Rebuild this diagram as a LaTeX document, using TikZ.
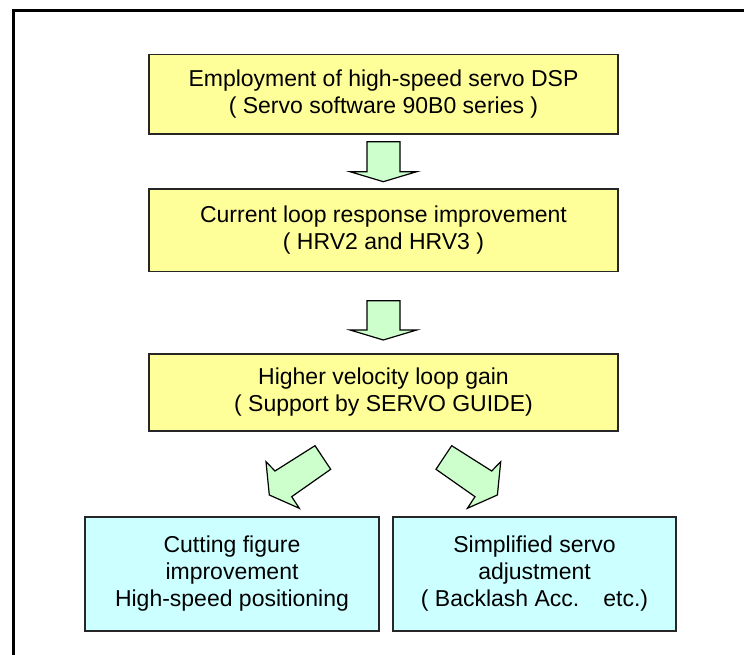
\documentclass[tikz,border=0pt]{standalone}
\usepackage{fontspec}
\setmainfont{Liberation Sans}
\definecolor{stepyellow}{HTML}{FFFF99}
\definecolor{resultcyan}{HTML}{CCFFFF}
\definecolor{arrowgreen}{HTML}{CCFFCC}
\begin{document}
\begin{tikzpicture}[x=1pt,y=1pt,
  boxtext/.style={align=center, inner sep=0pt, font=\fontsize{23}{27}\selectfont},
  stagebox/.style={boxtext, draw=black!85, line width=1.3pt, fill=stepyellow,
    minimum width=469pt},
  resultbox/.style={boxtext, draw=black!85, line width=1.3pt, fill=resultcyan,
    minimum width=#1, minimum height=114pt},
  blockarrow/.style={draw=black, line width=1.2pt, fill=arrowgreen, line join=miter}]
\useasboundingbox (0,0) rectangle (744,655);
\clip (0,0) rectangle (744,655);

% outer frame, running off the right and bottom edges
\draw[line width=3pt] (13,-20) -- (13,644.5) -- (780,644.5);

% chain of stages
\node[stagebox, minimum height=79.5pt] (dsp) at (383.5,560.75)
  {Employment of high-speed servo DSP\\( Servo software 90B0 series )};
\node[stagebox, minimum height=82.5pt] (current) at (383.5,424.75)
  {Current loop response improvement\\( HRV2 and HRV3 )};
\node[stagebox, minimum height=77pt] (velocity) at (383.5,262.5)
  {Higher velocity loop gain\\( Support by SERVO GUIDE)};

% results
\node[resultbox=294pt] (cutting) at (232,81)
  {Cutting figure\\improvement\\High-speed positioning};
\node[resultbox=283pt] (servoadj) at (534.5,81)
  {Simplified servo\\adjustment\\( Backlash Acc.\hspace{24pt}etc.)};

% block arrows between the stages
\draw[blockarrow] (367,513.3) -- (400,513.3) -- (400,483.3) -- (416.7,483.3)
  -- (383.3,473.3) -- (350,483.3) -- (367,483.3) -- cycle;
\draw[blockarrow] (367,354.3) -- (400,354.3) -- (400,325) -- (416.7,325)
  -- (383.3,315) -- (350,325) -- (367,325) -- cycle;

% diagonal block arrows towards the results
\draw[blockarrow] (315,209.3) -- (330.7,185.7) -- (291.7,158.3) -- (299.3,146.7)
  -- (269.3,160) -- (266,193.3) -- (275,184) -- cycle;
\draw[blockarrow] (451.7,209.3) -- (436,185.7) -- (475,158.3) -- (467.4,146.7)
  -- (497.4,160) -- (500.7,193.3) -- (491.7,184) -- cycle;
\end{tikzpicture}
\end{document}
